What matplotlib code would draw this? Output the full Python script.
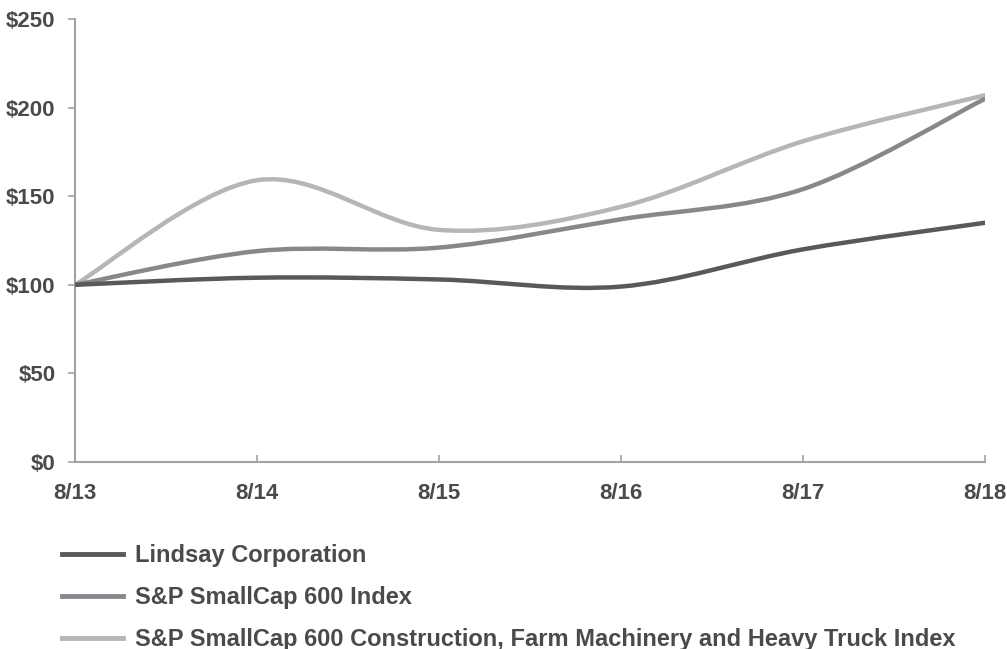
import numpy as np
import matplotlib.pyplot as plt
from matplotlib.path import Path
from matplotlib.patches import PathPatch
from matplotlib.lines import Line2D

plt.rcParams['font.family'] = ['Liberation Sans', 'DejaVu Sans']
plt.rcParams['font.weight'] = 'bold'

# data
years = ['8/13', '8/14', '8/15', '8/16', '8/17', '8/18']
lindsay = [100, 104, 103, 99, 120, 135]
smallcap = [100, 119, 121, 137, 154, 205]
construction = [100, 159, 131, 144, 181, 207]

names = ['Lindsay Corporation',
         'S&P SmallCap 600 Index',
         'S&P SmallCap 600 Construction, Farm Machinery and Heavy Truck Index']
colors = ['#58595b', '#87888b', '#b5b6b8']
TEXT = '#4a4a4c'
AXIS = '#a3a3a6'


def smooth_path(x, y):
    # excel-like smoothed line: cubic bezier through each point
    pts = np.column_stack([x, y]).astype(float)
    n = len(pts)
    verts = [pts[0]]
    codes = [Path.MOVETO]
    for i in range(n - 1):
        p0 = pts[i - 1] if i > 0 else pts[i]
        p1 = pts[i]
        p2 = pts[i + 1]
        p3 = pts[i + 2] if i + 2 < n else pts[i + 1]
        c1 = p1 + (p2 - p0) / 6.0
        c2 = p2 - (p3 - p1) / 6.0
        verts += [c1, c2, p2]
        codes += [Path.CURVE4] * 3
    return Path(verts, codes)


fig = plt.figure(figsize=(10.07, 6.49), dpi=100)
ax = fig.add_axes([75 / 1007, 187 / 649, 910 / 1007, 443 / 649])

x = np.arange(len(years))
for vals, c in zip([construction, smallcap, lindsay], colors[::-1]):
    ax.add_patch(PathPatch(smooth_path(x, vals), facecolor='none', edgecolor=c,
                           lw=3.2, capstyle='round', zorder=3))

ax.set_xlim(0, len(years) - 1)
ax.set_ylim(0, 250)
ax.set_xticks(x)
ax.set_xticklabels(years)
ax.set_yticks(range(0, 251, 50))
ax.set_yticklabels([f'${v}' for v in range(0, 251, 50)])

for s in ['top', 'right']:
    ax.spines[s].set_visible(False)
for s in ['left', 'bottom']:
    ax.spines[s].set_color(AXIS)
    ax.spines[s].set_linewidth(1.5)
ax.tick_params(axis='y', direction='out', length=5, width=1.2, color=AXIS,
               labelsize=16, labelcolor=TEXT, pad=9)
ax.tick_params(axis='x', direction='in', length=5, width=1.2, color=AXIS,
               labelsize=16, labelcolor=TEXT, pad=15)

handles = [Line2D([], [], color=c, lw=3.5) for c in colors]
leg = fig.legend(handles, names, loc='upper left', bbox_to_anchor=(62 / 1007, 1 - 544 / 649),
                 frameon=False, fontsize=17, handlelength=2.6, handletextpad=0.5,
                 labelspacing=0.8, borderaxespad=0, borderpad=0)
for t in leg.get_texts():
    t.set_color(TEXT)

fig.savefig('out.png', dpi=100)
